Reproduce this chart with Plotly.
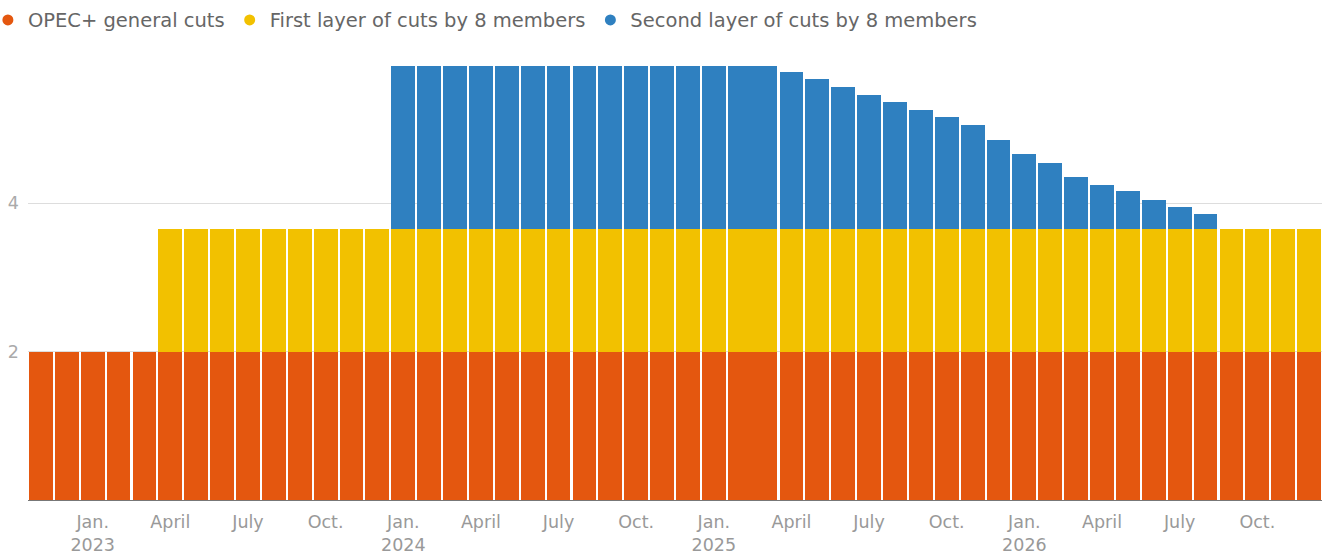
import plotly.graph_objects as go
import pandas as pd

# Monthly categories, Nov 2022 - Dec 2026
months = [d.strftime("%Y-%m") for d in pd.date_range("2022-11-01", "2026-12-01", freq="MS")]

# mb/d
general_cuts = [2.0, 2.0,
                2.0, 2.0, 2.0, 2.0, 2.0, 2.0, 2.0, 2.0, 2.0, 2.0, 2.0, 2.0,
                2.0, 2.0, 2.0, 2.0, 2.0, 2.0, 2.0, 2.0, 2.0, 2.0, 2.0, 2.0,
                2.0, 2.0, 2.0, 2.0, 2.0, 2.0, 2.0, 2.0, 2.0, 2.0, 2.0, 2.0,
                2.0, 2.0, 2.0, 2.0, 2.0, 2.0, 2.0, 2.0, 2.0, 2.0, 2.0, 2.0]
first_layer = [None, None,
               None, None, None, 1.65, 1.65, 1.65, 1.65, 1.65, 1.65, 1.65, 1.65, 1.65,
               1.65, 1.65, 1.65, 1.65, 1.65, 1.65, 1.65, 1.65, 1.65, 1.65, 1.65, 1.65,
               1.65, 1.65, 1.65, 1.65, 1.65, 1.65, 1.65, 1.65, 1.65, 1.65, 1.65, 1.65,
               1.65, 1.65, 1.65, 1.65, 1.65, 1.65, 1.65, 1.65, 1.65, 1.65, 1.65, 1.65]
second_layer = [None, None,
                None, None, None, None, None, None, None, None, None, None, None, None,
                2.2, 2.2, 2.2, 2.2, 2.2, 2.2, 2.2, 2.2, 2.2, 2.2, 2.2, 2.2,
                2.2, 2.2, 2.2, 2.12, 2.02, 1.92, 1.81, 1.72, 1.61, 1.51, 1.41, 1.21,
                1.01, 0.90, 0.70, 0.60, 0.51, 0.40, 0.30, 0.20, None, None, None, None]

tick_months = ["2023-01", "2023-04", "2023-07", "2023-10",
               "2024-01", "2024-04", "2024-07", "2024-10",
               "2025-01", "2025-04", "2025-07", "2025-10",
               "2026-01", "2026-04", "2026-07", "2026-10"]
tick_text = ["Jan.<br>2023", "April", "July", "Oct.",
             "Jan.<br>2024", "April", "July", "Oct.",
             "Jan.<br>2025", "April", "July", "Oct.",
             "Jan.<br>2026", "April", "July", "Oct."]

series = [
    ("OPEC+ general cuts", general_cuts, "#e4570f"),
    ("First layer of cuts by 8 members", first_layer, "#f2c100"),
    ("Second layer of cuts by 8 members", second_layer, "#2f80c0"),
]

# bar geometry (the Feb-2025 bar in the original touches the March bar)
bw = 0.92
widths = [bw] * len(months)
offsets = [-bw / 2] * len(months)
i_feb = months.index("2025-02")
widths[i_feb] = 1.0
offsets[i_feb] = -bw / 2

FONT = "DejaVu Sans"

fig = go.Figure()
for name, vals, col in series:
    fig.add_trace(go.Bar(
        x=months, y=vals, name=name, legendgroup=name, showlegend=False,
        marker=dict(color=col, line=dict(width=0)),
        width=widths, offset=offsets,
    ))
# circular legend keys (grouped with the bars so clicking toggles them)
for name, vals, col in series:
    fig.add_trace(go.Scatter(
        x=[None], y=[None], mode="markers", name=name, legendgroup=name,
        marker=dict(symbol="circle", size=11, color=col), hoverinfo="skip",
    ))

fig.update_layout(
    width=1327, height=555,
    barmode="stack",
    plot_bgcolor="white", paper_bgcolor="white",
    margin=dict(l=28, r=5, t=55, b=55, autoexpand=False),
    font=dict(family=FONT, size=17, color="#999999"),
    legend=dict(
        orientation="h", xref="paper", yref="paper",
        x=-0.031, y=1.122, xanchor="left", yanchor="top",
        font=dict(family=FONT, size=19.5, color="#666666"),
        itemwidth=30, traceorder="normal",
    ),
    xaxis=dict(
        type="category", categoryorder="array", categoryarray=months,
        range=[-0.5, len(months) - 0.5], automargin=False,
        tickmode="array", tickvals=tick_months, ticktext=tick_text,
        showgrid=False, showline=True, linecolor="#777777", linewidth=1,
        ticks="", ticklabelstandoff=6,
        tickfont=dict(family=FONT, size=17.5, color="#999999"),
    ),
    yaxis=dict(
        range=[0, 6], tickmode="array", tickvals=[2, 4], ticktext=["2", "4"],
        automargin=False,
        showgrid=True, gridcolor="#dddddd", gridwidth=1, zeroline=False,
        showline=False, ticks="", ticklabelstandoff=8,
        tickfont=dict(family=FONT, size=17.5, color="#aaaaaa"),
    ),
)

fig.write_html("out.html")
